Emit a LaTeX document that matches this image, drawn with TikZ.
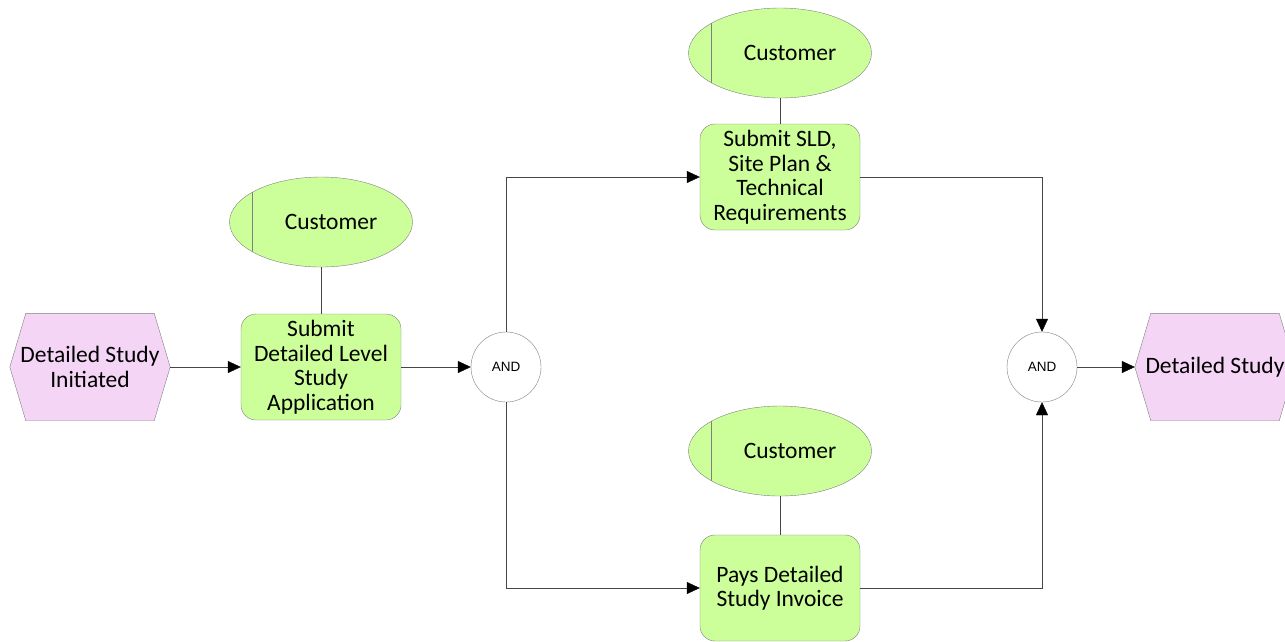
\documentclass[tikz,border=0pt]{standalone}
\usepackage{fontspec}
\setmainfont{Carlito}
\newfontfamily\andfont{Liberation Sans}
\usetikzlibrary{shapes.geometric,arrows.meta,backgrounds}
\definecolor{fnfill}{RGB}{204,255,153}
\definecolor{evfill}{RGB}{245,213,245}
\definecolor{edgegray}{RGB}{128,128,128}
\definecolor{conn}{RGB}{70,70,70}
\begin{document}
\begin{tikzpicture}[x=1pt,y=-1pt,
  every node/.style={font=\fontsize{23.5}{24.5}\selectfont, text=black},
  func/.style={rectangle, rounded corners=15pt, draw=edgegray, fill=fnfill,
    minimum width=160pt, minimum height=106pt, inner sep=0pt, align=center},
  evt/.style={rectangle, minimum width=160pt, minimum height=107pt,
    inner sep=0pt, align=center},
  evtshape/.style={draw=edgegray, fill=evfill},
  role/.style={ellipse, draw=edgegray, fill=fnfill, minimum width=183pt,
    minimum height=90pt, inner sep=0pt,
    path picture={\draw[edgegray] ([xshift=23pt,yshift=50pt]path picture bounding box.west) -- ++(0,-100pt);}},
  gate/.style={circle, draw=edgegray, fill=white, minimum size=70pt,
    inner sep=0pt, font=\andfont\fontsize{13.5}{15}\selectfont},
  flow/.style={draw=conn, -{Triangle[length=13pt,width=12pt,color=black]}},
  link/.style={draw=conn}
]
\useasboundingbox (0,0) rectangle (1285,641);
\clip (0,0) rectangle (1285,641);

% events
\node[evt] (ev1) at (90,367) {Detailed Study\\Initiated};
\node[evt] (ev2) at (1215,367) {Detailed Study};

% functions and their roles
\node[func] (f1) at (321,367) {Submit\\Detailed Level\\Study\\Application};
\node[role] (r1) at (321,222) {\hspace*{20pt}Customer};

\node[func] (f2) at (780,177) {Submit SLD,\\Site Plan \&\\Technical\\Requirements};
\node[role] (r2) at (780,53) {\hspace*{20pt}Customer};

\node[func] (f3) at (780,588) {Pays Detailed\\Study Invoice};
\node[role] (r3) at (780,451) {\hspace*{20pt}Customer};

% connectors
\node[gate] (a1) at (506,367) {AND};
\node[gate] (a2) at (1042,367) {AND};

\begin{scope}[on background layer]
  \foreach \e in {ev1,ev2}
    \path[evtshape] (\e.west) -- ([xshift=16pt]\e.north west)
      -- ([xshift=-16pt]\e.north east) -- (\e.east)
      -- ([xshift=-16pt]\e.south east) -- ([xshift=16pt]\e.south west) -- cycle;
\end{scope}

% control flow
\draw[flow] (ev1) -- (f1);
\draw[flow] (f1) -- (a1);
\draw[flow] (a1.north) |- (f2.west);
\draw[flow] (a1.south) |- (f3.west);
\draw[flow] (f2.east) -| (a2.north);
\draw[flow] (f3.east) -| (a2.south);
\draw[flow] (a2) -- (ev2);

% role assignments
\draw[link] (r1) -- (f1);
\draw[link] (r2) -- (f2);
\draw[link] (r3) -- (f3);
\end{tikzpicture}
\end{document}
